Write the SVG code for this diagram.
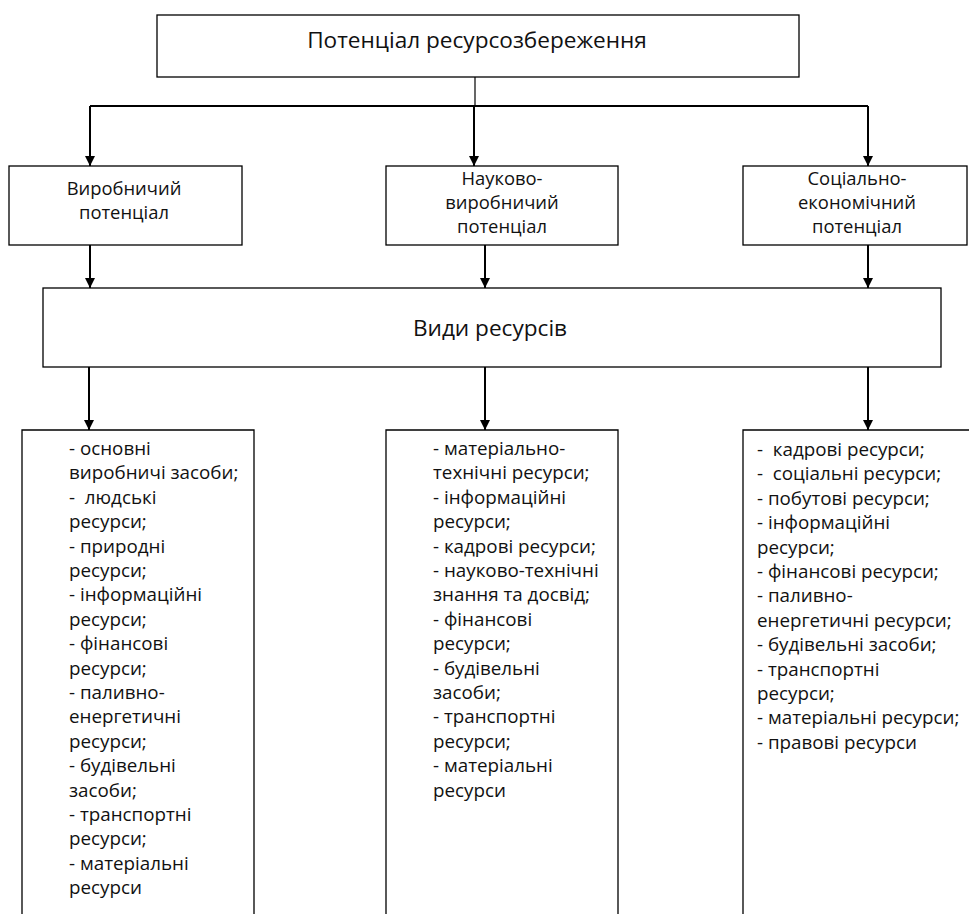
<svg xmlns="http://www.w3.org/2000/svg" width="969" height="914" viewBox="0 0 969 914">
<defs>
<marker id="ah" viewBox="0 0 10 10" refX="10" refY="5" markerWidth="10" markerHeight="10" markerUnits="userSpaceOnUse" orient="auto">
<path d="M0,0 L10,5 L0,10 Z" fill="#000"/>
</marker>
<style>
.box{fill:#fff;stroke:#000;stroke-width:1.3}
.t{font-family:"Open Sans","Noto Sans",sans-serif;fill:#111}
.c{text-anchor:middle}
.h{font-size:22.6px}
.m{font-size:18.4px}
.l{font-size:18.8px}
.con{stroke:#000;stroke-width:2;fill:none}
.arr{stroke:#000;stroke-width:2;fill:none;marker-end:url(#ah)}
</style>
</defs>
<rect width="969" height="914" fill="#fff"/>
<g id="connectors">
<line class="con" x1="475" y1="77" x2="475" y2="106" style="stroke-width:1.2"/>
<line class="con" x1="90" y1="106" x2="868" y2="106"/>
<line class="arr" x1="90" y1="106" x2="90" y2="166"/>
<line class="arr" x1="474" y1="106" x2="474" y2="166"/>
<line class="arr" x1="868" y1="106" x2="868" y2="166"/>
<line class="arr" x1="90" y1="245" x2="90" y2="288"/>
<line class="arr" x1="485" y1="245" x2="485" y2="288"/>
<line class="arr" x1="868" y1="245" x2="868" y2="288"/>
<line class="arr" x1="89" y1="367" x2="89" y2="430"/>
<line class="arr" x1="485" y1="367" x2="485" y2="430"/>
<line class="arr" x1="868" y1="367" x2="868" y2="430"/>
</g>
<g id="top">
<rect class="box" x="157" y="15" width="642" height="62"/>
<text class="t h c" x="477" y="48">Потенціал ресурсозбереження</text>
</g>
<g id="vyrobnychyi">
<rect class="box" x="9" y="166" width="233" height="79"/>
<text class="t m c" x="124" y="195">Виробничий</text>
<text class="t m c" x="124" y="219">потенціал</text>
</g>
<g id="naukovo">
<rect class="box" x="386" y="166" width="232" height="79"/>
<text class="t m c" x="502" y="185">Науково-</text>
<text class="t m c" x="502" y="209">виробничий</text>
<text class="t m c" x="502" y="233">потенціал</text>
</g>
<g id="sotsialno">
<rect class="box" x="743" y="166" width="224" height="79"/>
<text class="t m c" x="857" y="185">Соціально-</text>
<text class="t m c" x="857" y="209">економічний</text>
<text class="t m c" x="857" y="233">потенціал</text>
</g>
<g id="vydy">
<rect class="box" x="43" y="288" width="898" height="79"/>
<text class="t h c" x="490" y="336">Види ресурсів</text>
</g>
<g id="list1">
<path class="box" d="M22,920 V430 H254 V920"/>
<text class="t l" x="69" y="455">
<tspan x="69" dy="0">- основні</tspan>
<tspan x="69" dy="24.4">виробничі засоби;</tspan>
<tspan x="69" dy="24.4">-&#160; людські</tspan>
<tspan x="69" dy="24.4">ресурси;</tspan>
<tspan x="69" dy="24.4">- природні</tspan>
<tspan x="69" dy="24.4">ресурси;</tspan>
<tspan x="69" dy="24.4">- інформаційні</tspan>
<tspan x="69" dy="24.4">ресурси;</tspan>
<tspan x="69" dy="24.4">- фінансові</tspan>
<tspan x="69" dy="24.4">ресурси;</tspan>
<tspan x="69" dy="24.4">- паливно-</tspan>
<tspan x="69" dy="24.4">енергетичні</tspan>
<tspan x="69" dy="24.4">ресурси;</tspan>
<tspan x="69" dy="24.4">- будівельні</tspan>
<tspan x="69" dy="24.4">засоби;</tspan>
<tspan x="69" dy="24.4">- транспортні</tspan>
<tspan x="69" dy="24.4">ресурси;</tspan>
<tspan x="69" dy="24.4">- матеріальні</tspan>
<tspan x="69" dy="24.4">ресурси</tspan>
</text>
</g>
<g id="list2">
<path class="box" d="M386,920 V430 H618 V920"/>
<text class="t l" x="433" y="455">
<tspan x="433" dy="0">- матеріально-</tspan>
<tspan x="433" dy="24.4">технічні ресурси;</tspan>
<tspan x="433" dy="24.4">- інформаційні</tspan>
<tspan x="433" dy="24.4">ресурси;</tspan>
<tspan x="433" dy="24.4">- кадрові ресурси;</tspan>
<tspan x="433" dy="24.4">- науково-технічні</tspan>
<tspan x="433" dy="24.4">знання та досвід;</tspan>
<tspan x="433" dy="24.4">- фінансові</tspan>
<tspan x="433" dy="24.4">ресурси;</tspan>
<tspan x="433" dy="24.4">- будівельні</tspan>
<tspan x="433" dy="24.4">засоби;</tspan>
<tspan x="433" dy="24.4">- транспортні</tspan>
<tspan x="433" dy="24.4">ресурси;</tspan>
<tspan x="433" dy="24.4">- матеріальні</tspan>
<tspan x="433" dy="24.4">ресурси</tspan>
</text>
</g>
<g id="list3">
<path class="box" d="M743,920 V430 H980"/>
<text class="t l" x="757" y="456">
<tspan x="757" dy="0">-&#160; кадрові ресурси;</tspan>
<tspan x="757" dy="24.4">-&#160; соціальні ресурси;</tspan>
<tspan x="757" dy="24.4">- побутові ресурси;</tspan>
<tspan x="757" dy="24.4">- інформаційні</tspan>
<tspan x="757" dy="24.4">ресурси;</tspan>
<tspan x="757" dy="24.4">- фінансові ресурси;</tspan>
<tspan x="757" dy="24.4">- паливно-</tspan>
<tspan x="757" dy="24.4">енергетичні ресурси;</tspan>
<tspan x="757" dy="24.4">- будівельні засоби;</tspan>
<tspan x="757" dy="24.4">- транспортні</tspan>
<tspan x="757" dy="24.4">ресурси;</tspan>
<tspan x="757" dy="24.4">- матеріальні ресурси;</tspan>
<tspan x="757" dy="24.4">- правові ресурси</tspan>
</text>
</g>
</svg>
